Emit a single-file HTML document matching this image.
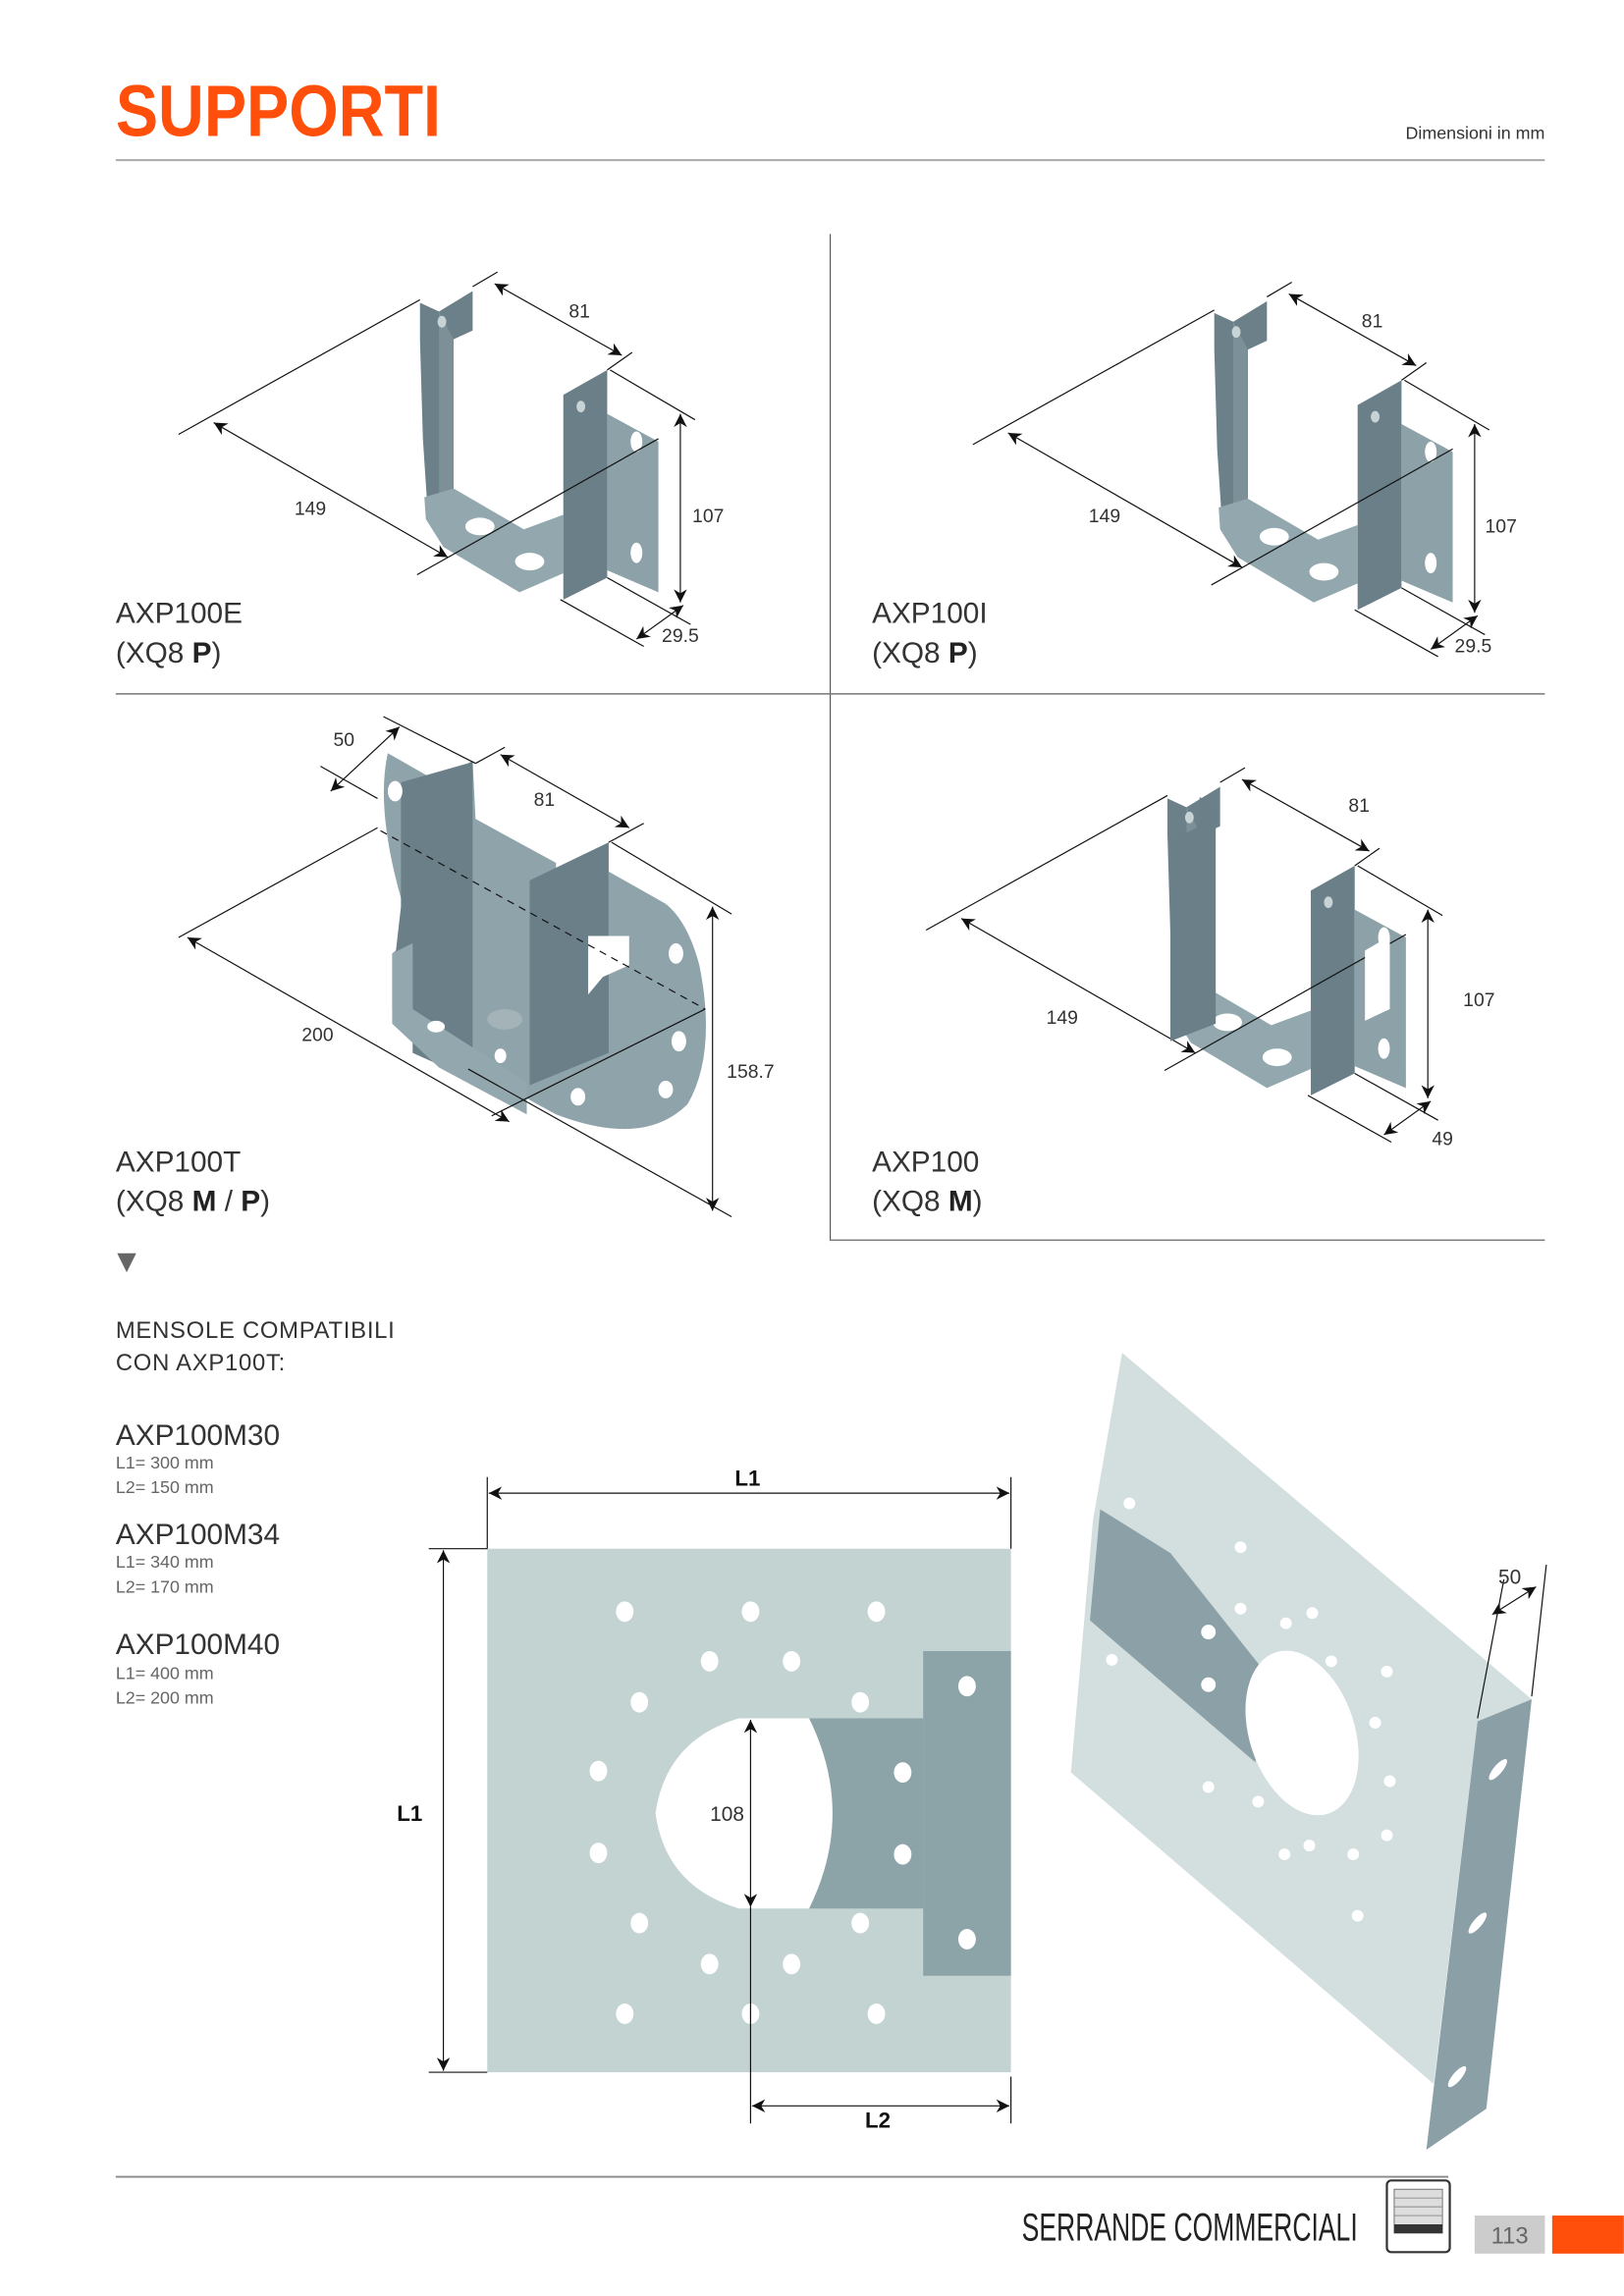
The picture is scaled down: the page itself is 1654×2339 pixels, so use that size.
<!DOCTYPE html>
<html><head><meta charset="utf-8"><style>
html,body{margin:0;padding:0;background:#fff}
svg{display:block}
text{font-family:"Liberation Sans Narrow","Liberation Sans",sans-serif;fill:#333}
</style></head><body>
<svg width="1654" height="2339" viewBox="0 0 1110 1570" xmlns="http://www.w3.org/2000/svg">
<defs>
<marker id="a" viewBox="0 0 10 10" refX="10" refY="5" markerWidth="9" markerHeight="9" markerUnits="userSpaceOnUse" orient="auto-start-reverse"><path d="M0,0 L10,5 L0,10 L3,5z" fill="#111"/></marker>
<g id="br">
 <polygon points="287,207 300,213 323,199 323,226 310,232 310,338 292,346 289,300 287,232" fill="#6b8089"/>
 <polygon points="300,213 310,232 310,338 300,342" fill="#7d9098"/>
 <polygon points="290,340 310,334 358,362 385,352 385,392 355,405 303,374 291,355" fill="#93a8ae"/>
 <polygon points="385,270 415,253 415,395 385,410" fill="#6a7f88"/>
 <polygon points="415,283 450,302 450,405 415,390" fill="#8ca1a8"/>
 <ellipse cx="302" cy="220" rx="3" ry="4" fill="#c8d3d6"/>
 <ellipse cx="397" cy="278" rx="3" ry="4" fill="#c8d3d6"/>
 <ellipse cx="435" cy="302" rx="4" ry="7" fill="#fff"/>
 <ellipse cx="435" cy="378" rx="4" ry="7" fill="#fff"/>
 <ellipse cx="328" cy="360" rx="10" ry="6" fill="#fff"/>
 <ellipse cx="362" cy="384" rx="10" ry="6" fill="#fff"/>
 <g stroke="#111" stroke-width="0.8" fill="none">
  <line x1="122" y1="297" x2="287" y2="205"/>
  <line x1="285" y1="393" x2="450" y2="300"/>
  <line x1="146" y1="289" x2="306" y2="381" marker-start="url(#a)" marker-end="url(#a)"/>
  <line x1="323" y1="196" x2="340" y2="186"/>
  <line x1="338" y1="194" x2="425" y2="243" marker-start="url(#a)" marker-end="url(#a)"/>
  <line x1="415" y1="253" x2="432" y2="241"/>
  <line x1="417" y1="253" x2="475" y2="287"/>
  <line x1="465" y1="283" x2="465" y2="412" marker-start="url(#a)" marker-end="url(#a)"/>
  <line x1="415" y1="395" x2="472" y2="427"/>
  <line x1="383" y1="410" x2="440" y2="442"/>
  <line x1="435" y1="437" x2="467" y2="414" marker-start="url(#a)" marker-end="url(#a)"/>
 </g>
</g>
</defs>

<text x="79" y="93" font-size="50" font-weight="bold" style="fill:#ff4f0a" transform="translate(79,0) scale(0.87,1) translate(-79,0)">SUPPORTI</text>
<text x="1056" y="95" font-size="12" text-anchor="end">Dimensioni in mm</text>
<line x1="79" y1="109.5" x2="1056" y2="109.5" stroke="#aaa" stroke-width="1.3"/>
<line x1="567.5" y1="160" x2="567.5" y2="848" stroke="#444" stroke-width="0.7"/>
<line x1="79" y1="474.5" x2="1056" y2="474.5" stroke="#777" stroke-width="1"/>
<line x1="567" y1="848" x2="1056" y2="848" stroke="#777" stroke-width="1"/>

<use href="#br"/>
<text x="212" y="352" font-size="13" text-anchor="middle">149</text>
<text x="396" y="217" font-size="13" text-anchor="middle">81</text>
<text x="484" y="357" font-size="13" text-anchor="middle">107</text>
<text x="465" y="439" font-size="13" text-anchor="middle">29.5</text>
<text x="79" y="426" font-size="20">AXP100E</text>
<text x="79" y="453" font-size="20">(XQ8 <tspan font-weight="bold" style="fill:#222">P</tspan>)</text>

<use href="#br" transform="translate(543,7)"/>
<text x="755" y="357" font-size="13" text-anchor="middle">149</text>
<text x="938" y="224" font-size="13" text-anchor="middle">81</text>
<text x="1026" y="364" font-size="13" text-anchor="middle">107</text>
<text x="1007" y="446" font-size="13" text-anchor="middle">29.5</text>
<text x="596" y="426" font-size="20">AXP100I</text>
<text x="596" y="453" font-size="20">(XQ8 <tspan font-weight="bold" style="fill:#222">P</tspan>)</text>

<!-- AXP100T -->
<path d="M265,515 Q255,560 282,640 L268,652 L268,690 Q320,730 380,762 Q440,785 470,755 Q490,720 478,660 Q470,630 455,618 L416,596 L416,655 L380,640 L380,590 L325,560 L323,520 L300,535 Z" fill="#8fa3aa"/>
<polygon points="274,535 323,521 323,742 300,728 282,720 282,650 270,655 274,620" fill="#6a7f88"/>
<polygon points="268,652 282,645 282,690 360,740 360,762 300,730 268,700" fill="#93a8ae"/>
<polygon points="362,602 416,576 416,720 362,742" fill="#6a7f88"/>
<polygon points="402,640 430,640 430,660 412,668 402,680" fill="#fff"/>
<ellipse cx="270" cy="541" rx="5" ry="7" fill="#fff"/>
<ellipse cx="462" cy="652" rx="5" ry="7" fill="#fff"/>
<ellipse cx="464" cy="712" rx="5" ry="7" fill="#fff"/>
<ellipse cx="455" cy="745" rx="5" ry="6" fill="#fff"/>
<ellipse cx="395" cy="750" rx="5" ry="6" fill="#fff"/>
<ellipse cx="298" cy="702" rx="6" ry="4" fill="#fff"/>
<ellipse cx="342" cy="722" rx="4" ry="5" fill="#fff"/>
<ellipse cx="345" cy="697" rx="12" ry="7" fill="#a3b3b8"/>
<g stroke="#111" stroke-width="0.8" fill="none">
 <line x1="122" y1="641" x2="258" y2="566"/>
 <line x1="260" y1="568" x2="482" y2="690" stroke-dasharray="5,4"/>
 <line x1="336" y1="763" x2="482" y2="690"/>
 <line x1="128" y1="641" x2="348" y2="767" marker-start="url(#a)" marker-end="url(#a)"/>
 <line x1="320" y1="731" x2="500" y2="832"/>
 <line x1="418" y1="576" x2="500" y2="625"/>
 <line x1="487" y1="620" x2="487" y2="828" marker-start="url(#a)" marker-end="url(#a)"/>
 <line x1="219" y1="524" x2="258" y2="546"/>
 <line x1="226" y1="541" x2="273" y2="497" marker-start="url(#a)" marker-end="url(#a)"/>
 <line x1="262" y1="490" x2="325" y2="522"/>
 <line x1="325" y1="522" x2="345" y2="511"/>
 <line x1="342" y1="516" x2="430" y2="566" marker-start="url(#a)" marker-end="url(#a)"/>
 <line x1="416" y1="576" x2="440" y2="563"/>
</g>
<text x="235" y="510" font-size="13" text-anchor="middle">50</text>
<text x="372" y="551" font-size="13" text-anchor="middle">81</text>
<text x="217" y="712" font-size="13" text-anchor="middle">200</text>
<text x="513" y="737" font-size="13" text-anchor="middle">158.7</text>
<text x="79" y="801" font-size="20">AXP100T</text>
<text x="79" y="828" font-size="20">(XQ8 <tspan font-weight="bold" style="fill:#222">M</tspan> / <tspan font-weight="bold" style="fill:#222">P</tspan>)</text>

<!-- AXP100 -->
<use href="#br" transform="translate(511,339)"/>
<polygon points="800,575 820,565 820,545 831,551 831,700 800,712" fill="#6a7f88"/>
<polygon points="933,650 950,640 950,690 933,698" fill="#fff"/>
<text x="726" y="700" font-size="13" text-anchor="middle">149</text>
<text x="929" y="555" font-size="13" text-anchor="middle">81</text>
<text x="1011" y="688" font-size="13" text-anchor="middle">107</text>
<text x="986" y="783" font-size="13" text-anchor="middle">49</text>
<text x="596" y="801" font-size="20">AXP100</text>
<text x="596" y="828" font-size="20">(XQ8 <tspan font-weight="bold" style="fill:#222">M</tspan>)</text>

<polygon points="80,857 93,857 86.5,870" fill="#666"/>
<text x="79" y="915" font-size="16" letter-spacing="0.5">MENSOLE COMPATIBILI</text>
<text x="79" y="937" font-size="16" letter-spacing="0.5">CON AXP100T:</text>
<text x="79" y="988" font-size="20">AXP100M30</text>
<text x="79" y="1004" font-size="12" style="fill:#666">L1= 300 mm</text>
<text x="79" y="1021" font-size="12" style="fill:#666">L2= 150 mm</text>
<text x="79" y="1056" font-size="20">AXP100M34</text>
<text x="79" y="1072" font-size="12" style="fill:#666">L1= 340 mm</text>
<text x="79" y="1089" font-size="12" style="fill:#666">L2= 170 mm</text>
<text x="79" y="1131" font-size="20">AXP100M40</text>
<text x="79" y="1148" font-size="12" style="fill:#666">L1= 400 mm</text>
<text x="79" y="1165" font-size="12" style="fill:#666">L2= 200 mm</text>

<!-- flat plate -->
<rect x="333" y="1059" width="358" height="358" fill="#c2d3d2"/>
<polygon points="631,1129 691,1129 691,1351 631,1351" fill="#8ca3a8"/>
<path d="M553,1175 L631,1175 L631,1305 L553,1305 Q585,1240 553,1175Z" fill="#8ca3a8"/>
<path d="M505,1175 L553,1175 Q585,1240 553,1305 L505,1305 Q455,1290 448,1240 Q455,1190 505,1175Z" fill="#fff"/>
<g fill="#fff">
<ellipse cx="427" cy="1102" rx="6" ry="7"/><ellipse cx="513" cy="1102" rx="6" ry="7"/><ellipse cx="599" cy="1102" rx="6" ry="7"/>
<ellipse cx="485" cy="1136" rx="6" ry="7"/><ellipse cx="541" cy="1136" rx="6" ry="7"/>
<ellipse cx="437" cy="1164" rx="6" ry="7"/><ellipse cx="588" cy="1164" rx="6" ry="7"/>
<ellipse cx="409" cy="1211" rx="6" ry="7"/><ellipse cx="409" cy="1267" rx="6" ry="7"/>
<ellipse cx="437" cy="1315" rx="6" ry="7"/><ellipse cx="588" cy="1315" rx="6" ry="7"/>
<ellipse cx="485" cy="1343" rx="6" ry="7"/><ellipse cx="541" cy="1343" rx="6" ry="7"/>
<ellipse cx="427" cy="1377" rx="6" ry="7"/><ellipse cx="513" cy="1377" rx="6" ry="7"/><ellipse cx="599" cy="1377" rx="6" ry="7"/>
<ellipse cx="661" cy="1153" rx="6" ry="7"/><ellipse cx="617" cy="1212" rx="6" ry="7"/><ellipse cx="617" cy="1268" rx="6" ry="7"/><ellipse cx="661" cy="1326" rx="6" ry="7"/>
</g>
<g stroke="#111" stroke-width="0.8" fill="none">
 <line x1="333" y1="1010" x2="333" y2="1059"/>
 <line x1="691" y1="1010" x2="691" y2="1059"/>
 <line x1="334" y1="1021" x2="690" y2="1021" marker-start="url(#a)" marker-end="url(#a)"/>
 <line x1="293" y1="1059" x2="333" y2="1059"/>
 <line x1="293" y1="1417" x2="333" y2="1417"/>
 <line x1="303" y1="1060" x2="303" y2="1416" marker-start="url(#a)" marker-end="url(#a)"/>
 <line x1="513" y1="1176" x2="513" y2="1304" marker-start="url(#a)" marker-end="url(#a)"/>
 <line x1="513" y1="1304" x2="513" y2="1452"/>
 <line x1="691" y1="1420" x2="691" y2="1452"/>
 <line x1="514" y1="1440" x2="690" y2="1440" marker-start="url(#a)" marker-end="url(#a)"/>
</g>
<text x="511" y="1016" font-size="15" font-weight="bold" text-anchor="middle" style="fill:#111">L1</text>
<text x="280" y="1245" font-size="15" font-weight="bold" text-anchor="middle" style="fill:#111">L1</text>
<text x="497" y="1245" font-size="14" text-anchor="middle">108</text>
<text x="600" y="1455" font-size="15" font-weight="bold" text-anchor="middle" style="fill:#111">L2</text>

<!-- iso plate -->
<polygon points="767,925 1047,1162 1010,1177 980,1425 732,1212 747,1040" fill="#d3dfdf"/>
<polygon points="752,1032 800,1062 870,1150 858,1205 745,1108" fill="#8ca1a7"/>
<ellipse cx="890" cy="1185" rx="36" ry="58" transform="rotate(-18 890 1185)" fill="#fff"/>
<polygon points="1010,1177 1047,1162 1016,1442 975,1470" fill="#8a9fa6"/>
<g fill="#fff">
<ellipse cx="1024" cy="1210" rx="3" ry="9" transform="rotate(40 1024 1210)"/>
<ellipse cx="1010" cy="1315" rx="3" ry="9" transform="rotate(40 1010 1315)"/>
<ellipse cx="996" cy="1420" rx="3" ry="9" transform="rotate(40 996 1420)"/>
<circle cx="772" cy="1028" r="4"/><circle cx="848" cy="1058" r="4"/><circle cx="760" cy="1135" r="4"/>
<circle cx="848" cy="1100" r="4"/><circle cx="879" cy="1110" r="4"/><circle cx="897" cy="1103" r="4"/>
<circle cx="910" cy="1136" r="4"/><circle cx="948" cy="1143" r="4"/><circle cx="940" cy="1178" r="4"/>
<circle cx="950" cy="1218" r="4"/><circle cx="948" cy="1255" r="4"/><circle cx="826" cy="1222" r="4"/>
<circle cx="860" cy="1232" r="4"/><circle cx="878" cy="1268" r="4"/><circle cx="895" cy="1262" r="4"/>
<circle cx="925" cy="1268" r="4"/><circle cx="928" cy="1310" r="4"/><circle cx="826" cy="1116" r="5"/><circle cx="826" cy="1152" r="5"/>
</g>
<g stroke="#111" stroke-width="0.8" fill="none">
 <line x1="1010" y1="1175" x2="1028" y2="1080"/>
 <line x1="1047" y1="1160" x2="1057" y2="1070"/>
 <line x1="1020" y1="1104" x2="1050" y2="1085" marker-start="url(#a)" marker-end="url(#a)"/>
</g>
<text x="1032" y="1083" font-size="14" text-anchor="middle">50</text>

<!-- footer -->
<line x1="79" y1="1488.5" x2="990" y2="1488.5" stroke="#888" stroke-width="1.2"/>
<text x="928" y="1532" font-size="27" text-anchor="end" style="fill:#222" transform="translate(928,0) scale(0.66,1) translate(-928,0)">SERRANDE COMMERCIALI</text>
<rect x="948" y="1491" width="43" height="49" rx="3" fill="#fff" stroke="#333" stroke-width="1.5"/>
<rect x="953" y="1497" width="33" height="30" fill="#ddd" stroke="#666" stroke-width="0.6"/>
<line x1="953" y1="1503" x2="986" y2="1503" stroke="#888" stroke-width="0.6"/>
<line x1="953" y1="1509" x2="986" y2="1509" stroke="#888" stroke-width="0.6"/>
<line x1="953" y1="1515" x2="986" y2="1515" stroke="#888" stroke-width="0.6"/>
<rect x="953" y="1521" width="33" height="6" fill="#333"/>
<rect x="1008" y="1515" width="48" height="26" fill="#ccc"/>
<text x="1032" y="1534" font-size="16" text-anchor="middle" style="fill:#666">113</text>
<rect x="1061" y="1515" width="49" height="26" fill="#ff4f0a"/>
</svg>
</body></html>
